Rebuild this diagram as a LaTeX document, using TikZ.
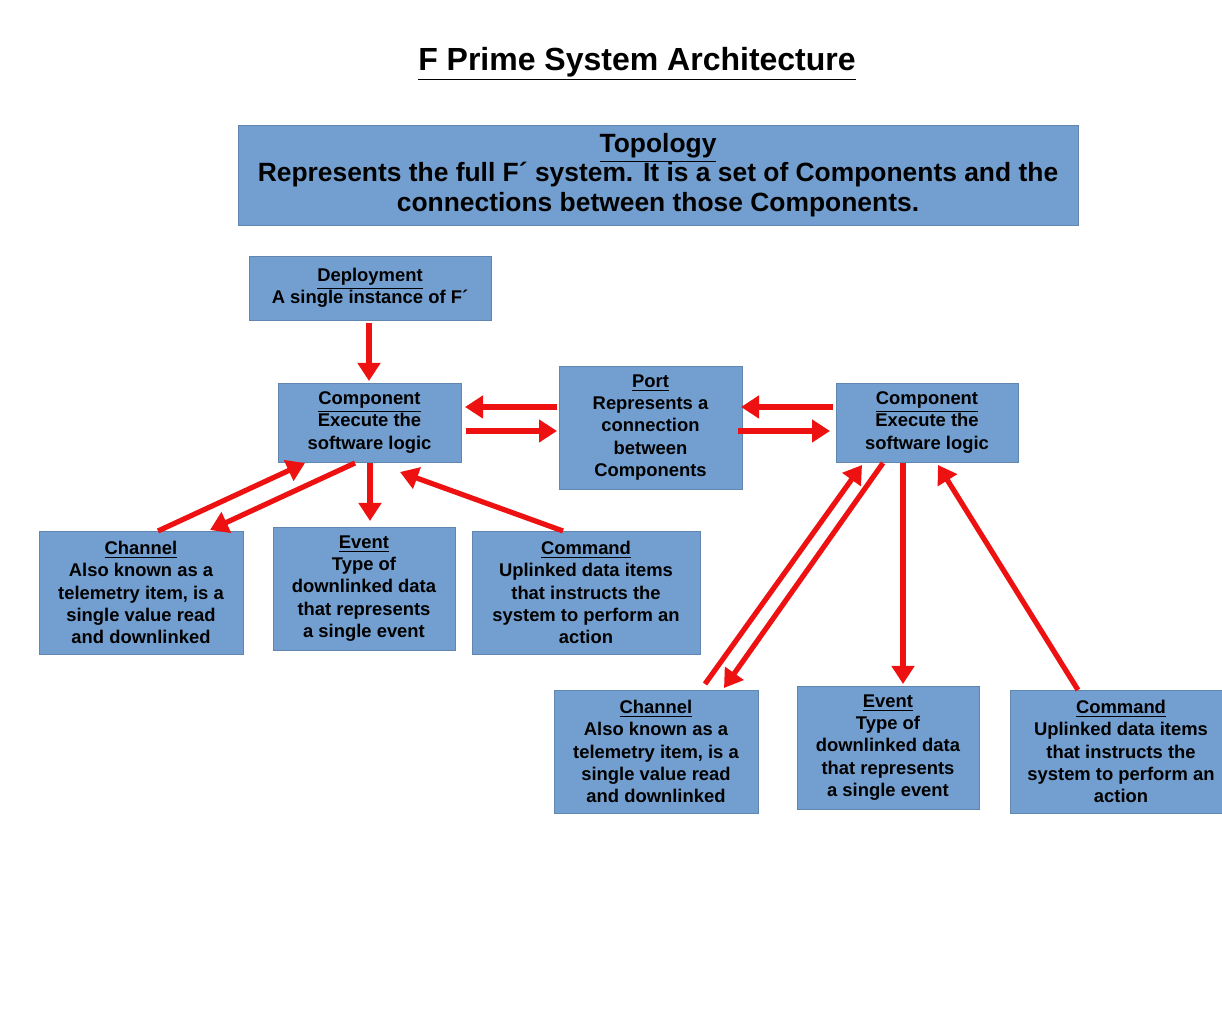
\documentclass[tikz,border=0pt]{standalone}
\usepackage{fontspec}
\setmainfont{Liberation Sans}
\usetikzlibrary{arrows.meta}
\definecolor{bx}{HTML}{729FCF}
\definecolor{ar}{HTML}{EE1111}
\begin{document}
\begin{tikzpicture}[x=0.5pt,y=-0.5pt,
 box/.style={fill=bx,draw=bx!85!black,line width=0.4pt,inner sep=0pt,font=\bfseries\fontsize{9.2}{11.2}\selectfont,align=center},
 arr/.style={draw=ar,line width=2.6pt,-{Triangle[length=9pt,width=11pt]}}]
\useasboundingbox (0,0) rectangle (1222,1020);
\clip (0,0) rectangle (1222,1020);
\fill[white] (0,0) rectangle (1222,1020);
\node[font=\bfseries\fontsize{16}{19}\selectfont] (title) at (637,64) {\underline{F Prime System Architecture}};
\newcommand{\bxn}[6]{\draw[fill=bx,draw=bx!85!black,line width=0.4pt] (#2,#4) rectangle (#3,#5);
 \node[box,fill=none,draw=none] (#1) at ({(#2+#3)/2},{(#4+#5)/2}) {#6};}
\draw[fill=bx,draw=bx!85!black] (238,125) rectangle (1078,225);
\node[align=center,font=\bfseries\fontsize{13.2}{14.6}\selectfont] (topo) at (658,175) {\underline{Topology}\\Represents the full F´ system. It is a set of Components and the\\connections between those Components.};
\bxn{dep}{249}{491}{256}{320}{\underline{Deployment}\\A single instance of F´}
\bxn{cl}{278}{461}{383}{462}{\underline{Component}\\Execute the\\software logic}
\bxn{port}{559}{742}{366}{489}{\underline{Port}\\Represents a\\connection\\between\\Components}
\bxn{cr}{836}{1018}{383}{462}{\underline{Component}\\Execute the\\software logic}
\bxn{chl}{39}{243}{531}{654}{\underline{Channel}\\Also known as a\\telemetry item, is a\\single value read\\and downlinked}
\bxn{evl}{273}{455}{527}{650}{\underline{Event}\\Type of\\downlinked data\\that represents\\a single event}
\bxn{cml}{472}{700}{531}{654}{\underline{Command}\\Uplinked data items\\that instructs the\\system to perform an\\action}
\bxn{chr}{554}{758}{690}{813}{\underline{Channel}\\Also known as a\\telemetry item, is a\\single value read\\and downlinked}
\bxn{evr}{797}{979}{686}{809}{\underline{Event}\\Type of\\downlinked data\\that represents\\a single event}
\bxn{cmr}{1010}{1232}{690}{813}{\underline{Command}\\Uplinked data items\\that instructs the\\system to perform an\\action}
\draw[arr] (369,323) -- (369,381);
\draw[arr] (557,407) -- (465,407);
\draw[arr] (466,431) -- (557,431);
\draw[arr] (833,407) -- (741,407);
\draw[arr] (738,431) -- (830,431);
\draw[arr] (158,531) -- (305,463);
\draw[arr] (355,463) -- (210,530);
\draw[arr] (370,463) -- (370,521);
\draw[arr] (563,531) -- (400,472);
\draw[arr] (705,684) -- (862,465);
\draw[arr] (883,463) -- (724,688);
\draw[arr] (903,463) -- (903,684);
\draw[arr] (1078,690) -- (938,465);
\end{tikzpicture}
\end{document}
